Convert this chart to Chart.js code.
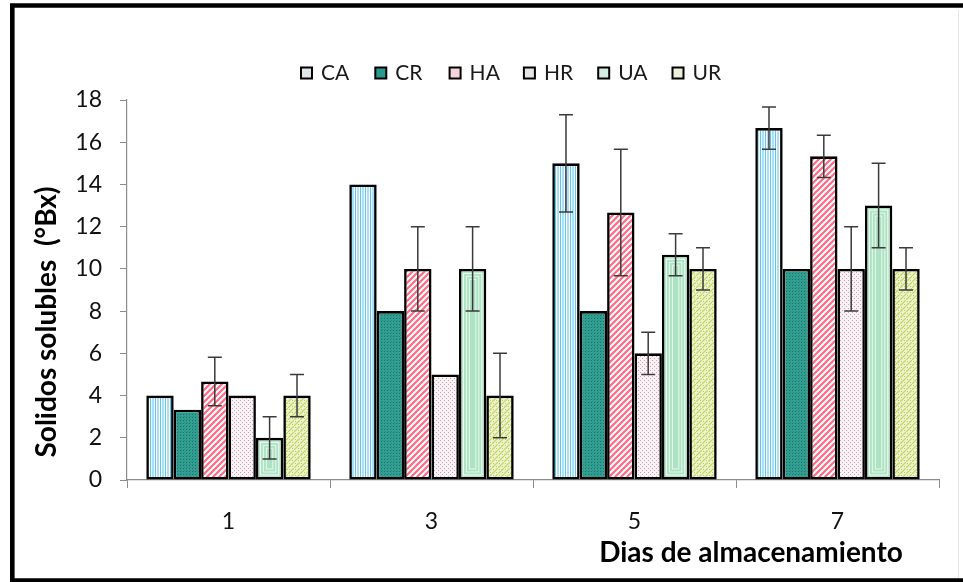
<!DOCTYPE html>
<html>
<head>
<meta charset="utf-8">
<script src="https://cdn.jsdelivr.net/npm/chart.js@4.4.1/dist/chart.umd.min.js"></script>
<style>
  html, body { margin: 0; padding: 0; background: #ffffff; }
  #wrap { width: 963px; height: 582px; position: relative; }
</style>
</head>
<body>
<div id="wrap"><canvas id="c" width="963" height="582"></canvas></div>
<script>
// Storage days (categories)
const days = ['1', '3', '5', '7'];
const seriesNames = ['CA', 'CR', 'HA', 'HR', 'UA', 'UR'];

// Mean soluble solids (°Bx) per treatment
const caValues = [4, 14, 15, 16.67];
const crValues = [3.33, 8, 8, 10];
const haValues = [4.67, 10, 12.67, 15.33];
const hrValues = [4, 5, 6, 10];
const uaValues = [2, 10, 10.67, 13];
const urValues = [4, 4, 10, 10];

// Standard deviations (0 = no bar drawn)
const caErr = [0, 0, 2.3, 1];
const crErr = [0, 0, 0, 0];
const haErr = [1.15, 2, 3, 1];
const hrErr = [0, 0, 1, 2];
const uaErr = [1, 2, 1, 2];
const urErr = [1, 2, 1, 1];

const yTicks = [0, 2, 4, 6, 8, 10, 12, 14, 16, 18];
const xTitle = 'Dias de almacenamiento';
const yTitle = 'Solidos solubles  (°Bx)';

const FONT = 'Lato, "Open Sans", sans-serif';

// ---- fill patterns ----
function tile(w, h, draw) {
  const cv = document.createElement('canvas');
  cv.width = w; cv.height = h;
  const g = cv.getContext('2d');
  draw(g, w, h);
  return g.createPattern(cv, 'repeat');
}
const patCA = tile(5, 4, (g) => {
  g.fillStyle = '#ffffff'; g.fillRect(0, 0, 5, 4);
  g.fillStyle = '#58c6ee'; g.fillRect(0, 0, 1, 4);
  g.fillStyle = '#a9e0f6'; g.fillRect(2, 0, 2, 4);
});
const patCR = tile(3, 3, (g) => {
  g.fillStyle = '#31a093'; g.fillRect(0, 0, 3, 3);
  g.fillStyle = '#1d7067'; g.fillRect(0, 0, 1, 1);
  g.fillStyle = '#2a8c81'; g.fillRect(1, 2, 1, 1);
});
const patHA = tile(6, 6, (g) => {
  g.fillStyle = '#ffffff'; g.fillRect(0, 0, 6, 6);
  g.strokeStyle = '#ff6a84'; g.lineWidth = 2.2;
  g.beginPath();
  g.moveTo(-1, 7); g.lineTo(7, -1);
  g.moveTo(-4, 4); g.lineTo(4, -4);
  g.moveTo(2, 10); g.lineTo(10, 2);
  g.stroke();
});
const patHR = tile(4, 4, (g) => {
  g.fillStyle = '#faf1f5'; g.fillRect(0, 0, 4, 4);
  g.fillStyle = '#c7a3b8'; g.fillRect(0, 0, 1, 1); g.fillRect(2, 2, 1, 1);
});
const patUR = tile(6, 6, (g) => {
  g.fillStyle = '#eef3cd'; g.fillRect(0, 0, 6, 6);
  g.strokeStyle = '#c5d86e'; g.lineWidth = 1.3;
  g.beginPath();
  g.moveTo(0, 6); g.lineTo(6, 0);
  g.stroke();
  g.fillStyle = '#b7cc5a'; g.fillRect(1, 1, 1, 1); g.fillRect(4, 4, 1, 1);
});
const fillUA = '#ade2c3';

const legendFills = ['#dfe7ea', '#2a9a8e', '#f7d3dc', '#e7e5e6', '#d2ece0', '#eef0da'];

function makeSet(label, data, err, bg) {
  return {
    label, data, err, backgroundColor: bg,
    borderColor: '#000000', borderWidth: 2.6, borderSkipped: false,
    barPercentage: 1.0, categoryPercentage: 0.81
  };
}

// ---- plugins ----
const framePlugin = {
  id: 'frame',
  beforeDraw(chart) {
    const ctx = chart.ctx;
    ctx.save();
    ctx.fillStyle = '#ffffff';
    ctx.fillRect(0, 0, chart.width, chart.height);
    ctx.restore();
  },
  afterDraw(chart) {
    const ctx = chart.ctx;
    ctx.save();
    ctx.strokeStyle = '#000000';
    ctx.lineWidth = 4.6;
    ctx.beginPath();
    ctx.moveTo(975, 5.5);
    ctx.lineTo(12.3, 5.5);
    ctx.lineTo(12.3, 580.5);
    ctx.lineTo(975, 580.5);
    ctx.stroke();
    ctx.strokeStyle = '#e6e6e6';
    ctx.lineWidth = 1;
    ctx.beginPath();
    ctx.moveTo(958.5, 10); ctx.lineTo(958.5, 578);
    ctx.stroke();
    ctx.restore();
  }
};

// nested outlines inside the UA bars
const ringPlugin = {
  id: 'rings',
  afterDatasetsDraw(chart) {
    const ctx = chart.ctx;
    const idx = chart.data.datasets.findIndex(d => d.label === 'UA');
    const meta = chart.getDatasetMeta(idx);
    ctx.save();
    meta.data.forEach((el) => {
      const p = el.getProps(['x', 'y', 'base', 'width'], true);
      const l = p.x - p.width / 2, r = p.x + p.width / 2;
      const t = Math.min(p.y, p.base), b = Math.max(p.y, p.base);
      [4.5, 7.5, 10.5].forEach((ins, k) => {
        if (b - t > ins * 2 + 4) {
          ctx.strokeStyle = k === 0 ? '#f0fbf5' : '#e2f6ea';
          ctx.lineWidth = 1.1;
          ctx.strokeRect(l + ins, t + ins, r - l - 2 * ins, b - t - 2 * ins);
        }
      });
    });
    ctx.restore();
  }
};

const errorPlugin = {
  id: 'errorBars',
  afterDatasetsDraw(chart) {
    const ctx = chart.ctx;
    const ys = chart.scales.y;
    ctx.save();
    ctx.strokeStyle = '#3b3b3b';
    ctx.lineWidth = 1.5;
    chart.data.datasets.forEach((ds, di) => {
      const meta = chart.getDatasetMeta(di);
      meta.data.forEach((el, i) => {
        const e = ds.err[i];
        if (!e) return;
        const v = ds.data[i];
        const x = el.x;
        const yt = ys.getPixelForValue(v + e);
        const yb = ys.getPixelForValue(v - e);
        ctx.beginPath();
        ctx.moveTo(x, yt); ctx.lineTo(x, yb);
        ctx.moveTo(x - 7, yt); ctx.lineTo(x + 7, yt);
        ctx.moveTo(x - 7, yb); ctx.lineTo(x + 7, yb);
        ctx.stroke();
      });
    });
    ctx.restore();
  }
};

const legendPlugin = {
  id: 'topLegend',
  afterDraw(chart) {
    const ctx = chart.ctx;
    ctx.save();
    ctx.font = '21px ' + FONT;
    ctx.textBaseline = 'middle';
    let x = 301;
    const yc = 73;
    chart.data.datasets.forEach((ds, i) => {
      ctx.fillStyle = legendFills[i];
      ctx.fillRect(x, yc - 5.5, 11, 11);
      ctx.strokeStyle = '#000000';
      ctx.lineWidth = 2;
      ctx.strokeRect(x, yc - 5.5, 11, 11);
      ctx.fillStyle = '#1a1a1a';
      ctx.fillText(ds.label, x + 20, yc);
      x += 74.3;
    });
    ctx.restore();
  }
};

const titlePlugin = {
  id: 'axisTitles',
  afterDraw(chart) {
    const ctx = chart.ctx;
    ctx.save();
    ctx.fillStyle = '#000000';
    ctx.font = 'bold 28px ' + FONT;
    ctx.textAlign = 'center';
    ctx.textBaseline = 'middle';
    ctx.fillText(xTitle, 751, 553);
    ctx.translate(47, 322);
    ctx.rotate(-Math.PI / 2);
    ctx.fillText(yTitle, 0, 0);
    ctx.restore();
  }
};

new Chart(document.getElementById('c'), {
  type: 'bar',
  data: {
    labels: days,
    datasets: [
      makeSet(seriesNames[0], caValues, caErr, patCA),
      makeSet(seriesNames[1], crValues, crErr, patCR),
      makeSet(seriesNames[2], haValues, haErr, patHA),
      makeSet(seriesNames[3], hrValues, hrErr, patHR),
      makeSet(seriesNames[4], uaValues, uaErr, fillUA),
      makeSet(seriesNames[5], urValues, urErr, patUR)
    ]
  },
  options: {
    responsive: false,
    animation: false,
    devicePixelRatio: 1,
    layout: { padding: { left: 0, right: 24, top: 100, bottom: 0 } },
    plugins: {
      legend: { display: false },
      tooltip: { enabled: false },
      title: { display: false }
    },
    scales: {
      x: {
        grid: { display: true, drawOnChartArea: false, drawTicks: true, tickLength: 8, color: '#8c8c8c', offset: true },
        border: { display: true, color: '#8c8c8c', width: 1.2 },
        ticks: { font: { family: FONT, size: 23 }, color: '#111111', padding: 20 },
        afterFit(s) { s.height = 102; }
      },
      y: {
        min: 0, max: 18,
        afterBuildTicks(s) { s.ticks = yTicks.map(v => ({ value: v })); },
        grid: { display: true, drawOnChartArea: false, drawTicks: true, tickLength: 7, color: '#8c8c8c' },
        border: { display: true, color: '#8c8c8c', width: 1.2 },
        ticks: { font: { family: FONT, size: 23 }, color: '#111111', padding: 18 },
        afterFit(s) { s.width = 127; }
      }
    }
  },
  plugins: [framePlugin, ringPlugin, errorPlugin, legendPlugin, titlePlugin]
});
</script>
</body>
</html>
